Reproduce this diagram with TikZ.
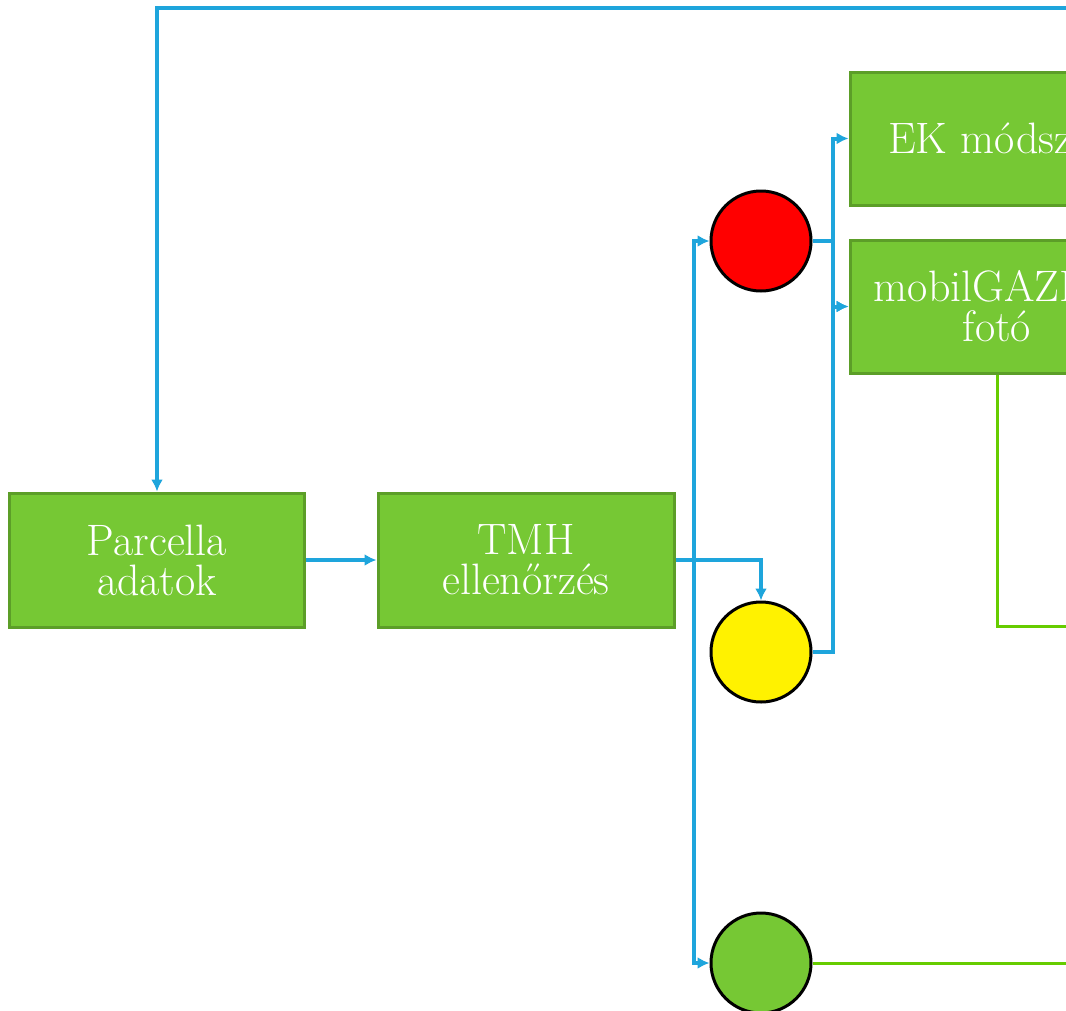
\documentclass[tikz,border=0pt]{standalone}
\usetikzlibrary{arrows.meta}
\definecolor{boxgreen}{RGB}{118,200,52}
\definecolor{boxedge}{RGB}{92,158,40}
\definecolor{lineblue}{RGB}{30,165,220}
\definecolor{linegreen}{RGB}{102,204,0}
\tikzset{
  gbox/.style={rectangle, draw=boxedge, line width=3pt, fill=boxgreen, text=white,
    align=center, font=\fontsize{44}{40}\selectfont, inner sep=0pt},
  light/.style={circle, draw=black, line width=3pt, minimum size=100pt, inner sep=0pt},
  bline/.style={draw=lineblue, line width=4pt},
  barrow/.style={bline, -{Latex[length=12pt,width=12pt]}},
  gline/.style={draw=linegreen, line width=3pt}
}
\begin{document}
\begin{tikzpicture}[x=1pt,y=-1pt]
\useasboundingbox (0,0) rectangle (1066,1010);
\clip (0,0) rectangle (1066,1010);
\fill[white] (0,0) rectangle (1066,1010);
% boxes
\node[gbox, minimum width=295pt, minimum height=134pt] (parc) at (157,560) {Parcella\\adatok};
\node[gbox, minimum width=296pt, minimum height=134pt] (tmh) at (526,560) {TMH\\ellenőrzés};
\node[gbox, minimum width=294pt, minimum height=133pt] (ek) at (997,138.5) {EK módszer};
\node[gbox, minimum width=294pt, minimum height=133pt] (mob) at (997,306.5) {mobilGAZDA\\fotó};
% lights
\node[light, fill=red] (red) at (761,241) {};
\node[light, fill=yellow] (yel) at (761,652) {};
\node[light, fill=boxgreen] (grn) at (761,963) {};
% off-canvas ends
\coordinate (src) at (1090,8);
\coordinate (g1) at (1090,626);
\coordinate (g2) at (1090,963);
% connectors
\draw[barrow] (src) -| (parc.north);
\draw[barrow] (parc.east) -- (tmh.west);
\draw[barrow] (tmh.east) -| (yel.north);
\draw[barrow] (tmh.east) -- ++(18,0) |- (red.west);
\draw[barrow] (tmh.east) -- ++(18,0) |- (grn.west);
\draw[barrow] (red.east) -- ++(20,0) |- (ek.west);
\draw[barrow] (red.east) -- ++(20,0) |- (mob.west);
\draw[barrow] (yel.east) -- ++(20,0) |- (mob.west);
\draw[gline] (mob.south) |- (g1);
\draw[gline] (grn.east) -- (g2);
\end{tikzpicture}
\end{document}
